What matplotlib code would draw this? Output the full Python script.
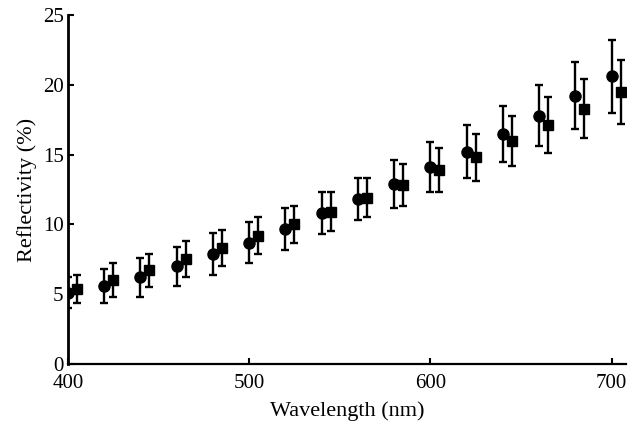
import numpy as np
import matplotlib
matplotlib.use("Agg")
import matplotlib.pyplot as plt

plt.rcParams.update({"font.family": "Liberation Serif", "font.size": 15})

# wavelengths (nm) and reflectivity (%) with error bars, two series
wl_circ = [400, 420, 440, 460, 480, 500, 520, 540, 560, 580, 600, 620, 640, 660, 680, 700]
refl_circ = [5.1, 5.6, 6.2, 7.0, 7.9, 8.7, 9.7, 10.8, 11.8, 12.9, 14.1, 15.2, 16.5, 17.8, 19.2, 20.6]
err_circ = [1.1, 1.2, 1.4, 1.4, 1.5, 1.5, 1.5, 1.5, 1.5, 1.7, 1.8, 1.9, 2.0, 2.2, 2.4, 2.6]

wl_sq = [405, 425, 445, 465, 485, 505, 525, 545, 565, 585, 605, 625, 645, 665, 685, 705]
refl_sq = [5.4, 6.0, 6.7, 7.5, 8.3, 9.2, 10.0, 10.9, 11.9, 12.8, 13.9, 14.8, 16.0, 17.1, 18.3, 19.5]
err_sq = [1.0, 1.2, 1.2, 1.3, 1.3, 1.3, 1.3, 1.4, 1.4, 1.5, 1.6, 1.7, 1.8, 2.0, 2.1, 2.3]

fig = plt.figure(figsize=(6.28, 4.28), dpi=100)
ax = fig.add_axes([0.108, 0.1495, 0.889, 0.8155])

ax.errorbar(wl_circ, refl_circ, yerr=err_circ, fmt="o", color="black", ms=8,
            elinewidth=1.7, capsize=2.6, capthick=1.7)
ax.errorbar(wl_sq, refl_sq, yerr=err_sq, fmt="s", color="black", ms=7.5,
            elinewidth=1.7, capsize=2.6, capthick=1.7)

ax.set_xlim(400, 708)
ax.set_ylim(0, 25)
ax.set_xticks([400, 500, 600, 700])
ax.set_yticks([0, 5, 10, 15, 20, 25])
ax.tick_params(direction="in", length=4, width=1.5)
ax.tick_params(axis="x", pad=7.5)
ax.tick_params(axis="y", pad=3)
for side in ["top", "right"]:
    ax.spines[side].set_visible(False)
ax.spines["left"].set_linewidth(2)
ax.spines["bottom"].set_linewidth(1.6)

ax.set_xlabel("Wavelength (nm)", fontsize=16, labelpad=6)
ax.set_ylabel("Reflectivity (%)", fontsize=16, labelpad=4)

fig.savefig("out.png", dpi=100)
